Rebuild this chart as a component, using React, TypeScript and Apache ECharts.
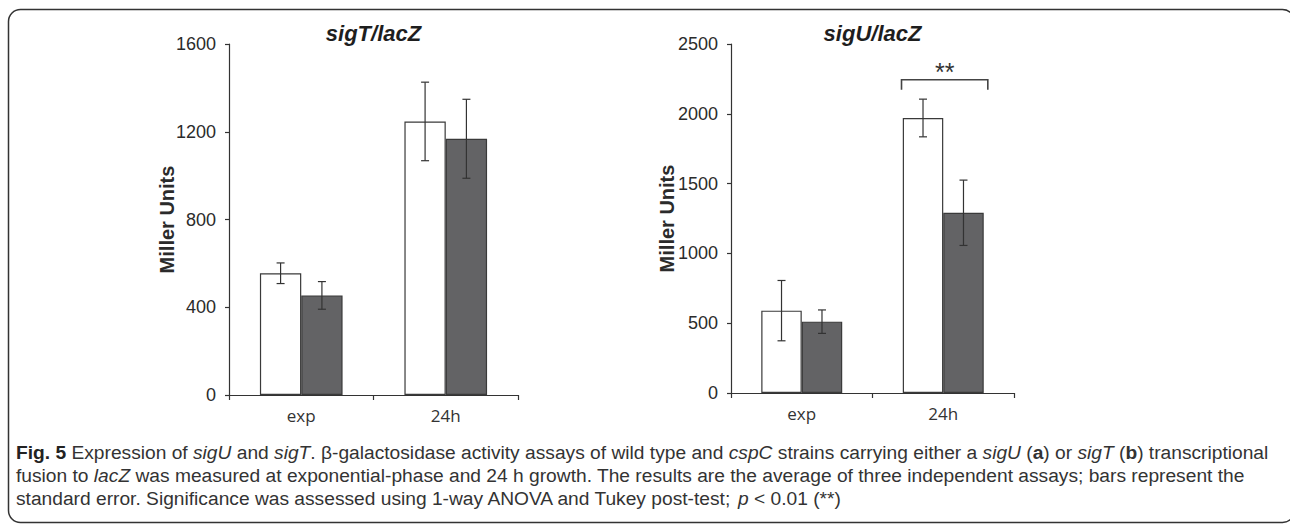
import React, { useEffect, useRef } from "react";
import * as echarts from "echarts";

const categories = ["exp", "24h"];

// sigT/lacZ (left panel)
const sigTWild = [555, 1247];
const sigTWildErr = [47, 179];
const sigTCspC = [454, 1168];
const sigTCspCErr = [63, 180];
const sigTAxis = { min: 0, max: 1600, interval: 400 };

// sigU/lacZ (right panel)
const sigUWild = [590, 1970];
const sigUWildErr = [216, 135];
const sigUCspC = [511, 1291];
const sigUCspCErr = [84, 234];
const sigUAxis = { min: 0, max: 2500, interval: 500 };

// significance bracket on the right panel: [category, bracket y, leg bottom, star baseline]
const sigBracket = [[1, 2244, 2172, 2212]];

const panelTitles = ["sigT/lacZ", "sigU/lacZ"];
const yName = "Miller Units";

const captionLines = [
  "{fb|Fig. 5} Expression of {i|sigU} and {i|sigT}. β-galactosidase activity assays of wild type and {i|cspC} strains carrying either a {i|sigU} ({b|a}) or {i|sigT} ({b|b}) transcriptional",
  "fusion to {i|lacZ} was measured at exponential-phase and 24 h growth. The results are the average of three independent assays; bars represent the",
  "standard error. Significance was assessed using 1-way ANOVA and Tukey post-test; {i|p} < 0.01 (**)",
];

const BAR_W = 0.286;
const AXIS_FONT = '"Liberation Sans", Arial, sans-serif';
const NARROW_FONT = '"Liberation Sans Narrow", "Arial Narrow", "Liberation Sans", sans-serif';
const CAP_FONT = '"Liberation Sans", Arial, sans-serif';
const CAP_SIZE = 19.2;
const CAP_LH = 20;
const INK = "#2b2b2b";

function errSeries(gridIdx: number, vals: number[], errs: number[], side: number) {
  return {
    type: "custom",
    xAxisIndex: gridIdx,
    yAxisIndex: gridIdx,
    z: 10,
    encode: { x: 0, y: 1 },
    data: vals.map((v, i) => [i, v, errs[i]]),
    renderItem: (params: any, api: any) => {
      const idx = api.value(0);
      const v = api.value(1);
      const e = api.value(2);
      const band = api.size([1, 0])[0];
      const c = api.coord([idx, v]);
      const x = c[0] + side * band * BAR_W / 2;
      const top = api.coord([idx, v + e])[1];
      const bot = api.coord([idx, v - e])[1];
      const cap = 4;
      const st = { stroke: "#333", lineWidth: 1.2, fill: "none" };
      return {
        type: "group",
        children: [
          { type: "line", shape: { x1: x, y1: top, x2: x, y2: bot }, style: st },
          { type: "line", shape: { x1: x - cap, y1: top, x2: x + cap, y2: top }, style: st },
          { type: "line", shape: { x1: x - cap, y1: bot, x2: x + cap, y2: bot }, style: st },
        ],
      };
    },
  };
}

function barSeries(gridIdx: number, vals: number[], dark: boolean) {
  return {
    type: "bar",
    xAxisIndex: gridIdx,
    yAxisIndex: gridIdx,
    data: vals,
    barWidth: BAR_W * 100 + "%",
    barGap: "0%",
    itemStyle: {
      color: dark ? "#636365" : "#ffffff",
      borderColor: "#3a3a3a",
      borderWidth: 1.2,
    },
  };
}

export default function App() {
  const ref = useRef<HTMLDivElement>(null);
  useEffect(() => {
    if (!ref.current) return;
    const chart = echarts.init(ref.current, null, { renderer: "svg" });
    const grids = [
      { left: 229, top: 44, width: 289, height: 351 },
      { left: 731, top: 44, width: 283, height: 349 },
    ];
    const axes = [sigTAxis, sigUAxis];
    const nameGaps = [52, 54];
    const option: any = {
      animation: false,
      backgroundColor: "#ffffff",
      grid: grids,
      xAxis: grids.map((_, i) => ({
        type: "category",
        gridIndex: i,
        data: categories,
        axisLine: { lineStyle: { color: "#333", width: 1.2 } },
        axisTick: { show: true, length: 5, lineStyle: { color: "#333", width: 1.2 } },
        axisLabel: { color: "#333", fontFamily: '"Open Sans", sans-serif', fontSize: 17, margin: 12 },
      })),
      yAxis: grids.map((_, i) => ({
        type: "value",
        gridIndex: i,
        min: axes[i].min,
        max: axes[i].max,
        interval: axes[i].interval,
        splitLine: { show: false },
        axisLine: { show: true, lineStyle: { color: "#333", width: 1.2 } },
        axisTick: { show: true, length: 4, lineStyle: { color: "#333", width: 1.2 } },
        axisLabel: {
          color: INK,
          fontFamily: NARROW_FONT,
          fontSize: 18,
          margin: 13,
          formatter: (v: number) => String(v),
        },
        name: yName,
        nameLocation: "middle",
        nameRotate: 90,
        nameGap: nameGaps[i],
        nameMoveOverlap: false,
        nameTextStyle: { color: INK, fontFamily: AXIS_FONT, fontSize: 20, fontWeight: "bold" },
      })),
      series: [
        barSeries(0, sigTWild, false),
        barSeries(0, sigTCspC, true),
        errSeries(0, sigTWild, sigTWildErr, -1),
        errSeries(0, sigTCspC, sigTCspCErr, 1),
        barSeries(1, sigUWild, false),
        barSeries(1, sigUCspC, true),
        errSeries(1, sigUWild, sigUWildErr, -1),
        errSeries(1, sigUCspC, sigUCspCErr, 1),
        {
          type: "custom",
          xAxisIndex: 1,
          yAxisIndex: 1,
          z: 11,
          encode: { x: 0, y: 1 },
          data: sigBracket,
          renderItem: (params: any, api: any) => {
            const idx = api.value(0);
            const band = api.size([1, 0])[0];
            const cx = api.coord([idx, 0])[0] + band * 0.01;
            const yb = api.coord([idx, api.value(1)])[1];
            const yl = api.coord([idx, api.value(2)])[1];
            const ys = api.coord([idx, api.value(3)])[1];
            const hw = band * 0.305;
            return {
              type: "group",
              children: [
                {
                  type: "polyline",
                  shape: { points: [[cx - hw, yl], [cx - hw, yb], [cx + hw, yb], [cx + hw, yl]] },
                  style: { stroke: "#444", lineWidth: 1.6, fill: "none" },
                },
                {
                  type: "text",
                  style: {
                    text: "**",
                    x: cx,
                    y: ys,
                    align: "center",
                    verticalAlign: "bottom",
                    fontFamily: AXIS_FONT,
                    fontSize: 25,
                    fill: "#333",
                  },
                },
              ],
            };
          },
        },
      ],
      graphic: [
        {
          type: "rect",
          shape: { x: 8.5, y: 9.5, width: 1286, height: 513, r: 12 },
          style: { fill: "none", stroke: "#333", lineWidth: 1.5 },
          silent: true,
        },
        ...panelTitles.map((t, i) => ({
          type: "text",
          style: {
            text: t,
            x: grids[i].left + grids[i].width / 2,
            y: 33,
            align: "center",
            verticalAlign: "middle",
            fontFamily: AXIS_FONT,
            fontSize: 22,
            fontStyle: "italic",
            fontWeight: "bold",
            fill: "#1e1e1e",
          },
        })),
        ...captionLines.map((line, i) => ({
          type: "text",
          style: {
            text: line,
            x: 16,
            y: 452 + i * 23,
            verticalAlign: "middle",
            fontFamily: CAP_FONT,
            fontSize: CAP_SIZE,
            lineHeight: CAP_LH,
            fill: "#333",
            rich: {
              i: { fontFamily: CAP_FONT, fontSize: CAP_SIZE, lineHeight: CAP_LH, fontStyle: "italic", fill: "#333" },
              b: { fontFamily: CAP_FONT, fontSize: CAP_SIZE, lineHeight: CAP_LH, fontWeight: "bold", fill: "#333" },
              fb: { fontFamily: CAP_FONT, fontSize: CAP_SIZE, lineHeight: CAP_LH, fontWeight: "bold", fill: "#222" },
            },
          },
        })),
      ],
    };
    chart.setOption(option);
    return () => chart.dispose();
  }, []);
  return (
    <div
      ref={ref}
      style={{ position: "absolute", left: 0, top: 0, width: 1290, height: 524, background: "#fff" }}
    />
  );
}
